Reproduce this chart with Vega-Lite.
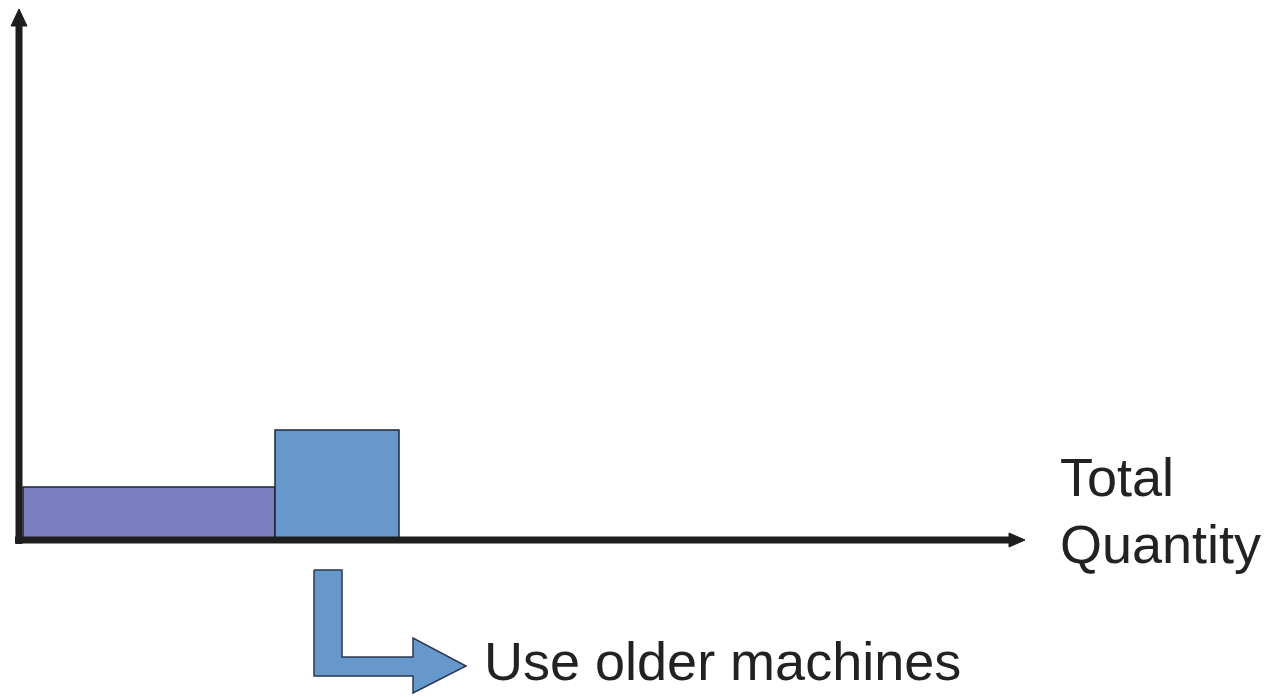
{
  "$schema": "https://vega.github.io/schema/vega-lite/v6.json",
  "width": 1268,
  "height": 697,
  "padding": 0,
  "autosize": {"type": "fit", "contains": "padding"},
  "background": "white",
  "config": {"view": {"stroke": null}},
  "encoding": {
    "x": {"field": "x", "type": "quantitative", "axis": null, "scale": {"domain": [-19, 1249], "nice": false, "zero": false}},
    "y": {"field": "y", "type": "quantitative", "axis": null, "scale": {"domain": [-157, 540], "nice": false, "zero": false}}
  },
  "layer": [
    {
      "data": {"values": [
        {"machine": "existing", "x": 4, "x2": 256, "y": 0, "y2": 53},
        {"machine": "older", "x": 256, "x2": 380, "y": 0, "y2": 110}
      ]},
      "mark": {"type": "rect", "stroke": "#1c2638", "strokeWidth": 1.5},
      "encoding": {
        "x2": {"field": "x2"},
        "y2": {"field": "y2"},
        "fill": {"field": "machine", "type": "nominal", "legend": null, "scale": {"domain": ["existing", "older"], "range": ["#7b7ebf", "#6698cc"]}}
      }
    },
    {
      "data": {"values": [
        {"axis": "price", "x": 0, "y": -4, "x2": 0, "y2": 518},
        {"axis": "quantity", "x": -4, "y": 0, "x2": 995, "y2": 0}
      ]},
      "mark": {"type": "rule", "stroke": "#1e1e1e", "strokeWidth": 7},
      "encoding": {
        "x2": {"field": "x2"},
        "y2": {"field": "y2"}
      }
    },
    {
      "data": {"values": [
        {"head": "price", "i": 0, "x": 0, "y": 531},
        {"head": "price", "i": 1, "x": 8, "y": 514},
        {"head": "price", "i": 2, "x": -8, "y": 514},
        {"head": "price", "i": 3, "x": 0, "y": 531},
        {"head": "quantity", "i": 0, "x": 1006, "y": 0},
        {"head": "quantity", "i": 1, "x": 990, "y": 7},
        {"head": "quantity", "i": 2, "x": 990, "y": -7},
        {"head": "quantity", "i": 3, "x": 1006, "y": 0}
      ]},
      "mark": {"type": "line", "fill": "#1e1e1e", "stroke": "#1e1e1e", "strokeWidth": 1, "interpolate": "linear"},
      "encoding": {
        "detail": {"field": "head", "type": "nominal"},
        "order": {"field": "i", "type": "quantitative"}
      }
    },
    {
      "data": {"values": [
        {"i": 0, "x": 295, "y": -30},
        {"i": 1, "x": 323, "y": -30},
        {"i": 2, "x": 323, "y": -117},
        {"i": 3, "x": 394, "y": -117},
        {"i": 4, "x": 394, "y": -98},
        {"i": 5, "x": 447, "y": -126},
        {"i": 6, "x": 394, "y": -153},
        {"i": 7, "x": 394, "y": -136},
        {"i": 8, "x": 295, "y": -136},
        {"i": 9, "x": 295, "y": -30}
      ]},
      "mark": {"type": "line", "fill": "#6698cc", "stroke": "#2a3850", "strokeWidth": 1.5, "interpolate": "linear"},
      "encoding": {
        "order": {"field": "i", "type": "quantitative"}
      }
    },
    {
      "data": {"values": [
        {"label": "Total", "x": 1041, "y": 44},
        {"label": "Quantity", "x": 1041, "y": -23},
        {"label": "Use older machines", "x": 465, "y": -140}
      ]},
      "mark": {"type": "text", "font": "Liberation Sans", "fontSize": 54, "align": "left", "baseline": "alphabetic", "color": "#222222"},
      "encoding": {
        "text": {"field": "label", "type": "nominal"}
      }
    }
  ]
}
